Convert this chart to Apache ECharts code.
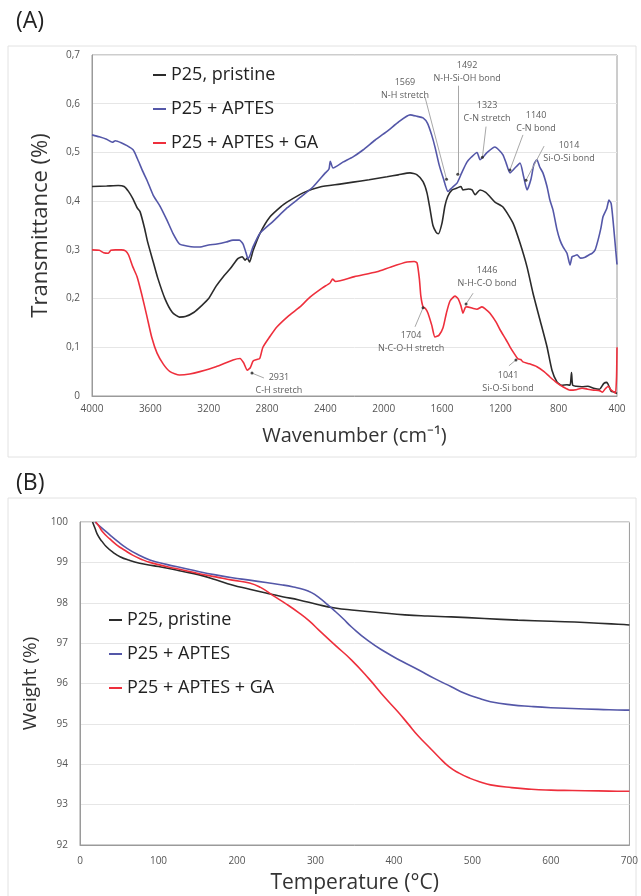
<!DOCTYPE html>
<html>
<head>
<meta charset="utf-8">
<script src="https://cdn.jsdelivr.net/npm/echarts@6/dist/echarts.min.js"></script>
<style>
  html, body { margin: 0; padding: 0; background: #fff; }
  #chart { width: 641px; height: 896px; }
</style>
</head>
<body>
<div id="chart"></div>
<script>
// ---- (A) FTIR: [wavenumber, transmittance]
var ftirPristine = [[4000,0.430],[3900,0.431],[3820,0.432],[3780,0.430],[3750,0.420],[3720,0.405],[3690,0.386],[3670,0.378],[3640,0.345],[3620,0.318],[3580,0.275],[3550,0.243],[3500,0.200],[3450,0.172],[3400,0.162],[3360,0.163],[3300,0.172],[3250,0.185],[3200,0.200],[3150,0.225],[3100,0.245],[3050,0.262],[3000,0.282],[2970,0.286],[2950,0.279],[2935,0.283],[2920,0.275],[2896,0.298],[2848,0.334],[2779,0.368],[2700,0.390],[2663,0.398],[2553,0.417],[2437,0.429],[2300,0.435],[2210,0.439],[2100,0.444],[1977,0.450],[1900,0.454],[1819,0.458],[1771,0.454],[1730,0.440],[1703,0.417],[1680,0.380],[1662,0.350],[1640,0.336],[1625,0.333],[1600,0.355],[1580,0.390],[1560,0.410],[1531,0.423],[1497,0.427],[1470,0.430],[1456,0.423],[1420,0.425],[1394,0.423],[1373,0.413],[1339,0.423],[1300,0.418],[1271,0.409],[1237,0.398],[1182,0.388],[1113,0.355],[1065,0.314],[1017,0.265],[976,0.211],[928,0.156],[880,0.101],[846,0.053],[812,0.029],[780,0.022],[743,0.023],[722,0.022],[712,0.048],[704,0.022],[680,0.020],[640,0.019],[600,0.020],[560,0.016],[520,0.014],[490,0.026],[470,0.028],[455,0.020],[440,0.010],[420,0.008],[400,0.005]];
var ftirAptes = [[4000,0.536],[3950,0.532],[3900,0.527],[3860,0.521],[3840,0.524],[3800,0.520],[3760,0.514],[3717,0.505],[3690,0.488],[3650,0.460],[3623,0.443],[3580,0.412],[3534,0.390],[3486,0.361],[3445,0.334],[3400,0.312],[3350,0.308],[3300,0.306],[3260,0.306],[3200,0.310],[3143,0.312],[3080,0.316],[3033,0.320],[2990,0.320],[2964,0.312],[2945,0.295],[2930,0.282],[2915,0.290],[2896,0.306],[2848,0.334],[2760,0.358],[2663,0.386],[2570,0.408],[2485,0.429],[2400,0.458],[2375,0.466],[2366,0.482],[2347,0.468],[2280,0.480],[2210,0.491],[2142,0.505],[2060,0.525],[1966,0.546],[1900,0.562],[1819,0.577],[1770,0.574],[1730,0.571],[1700,0.560],[1670,0.535],[1648,0.511],[1620,0.475],[1590,0.446],[1559,0.420],[1530,0.428],[1497,0.437],[1465,0.458],[1429,0.480],[1400,0.490],[1360,0.500],[1339,0.485],[1320,0.490],[1290,0.500],[1237,0.511],[1210,0.505],[1182,0.495],[1160,0.478],[1134,0.458],[1100,0.468],[1065,0.478],[1040,0.450],[1017,0.423],[990,0.445],[970,0.475],[949,0.485],[930,0.470],[908,0.458],[880,0.430],[860,0.402],[839,0.382],[812,0.342],[791,0.320],[770,0.306],[743,0.293],[722,0.269],[708,0.286],[690,0.288],[674,0.290],[650,0.283],[619,0.285],[590,0.290],[571,0.293],[550,0.300],[530,0.320],[510,0.345],[496,0.368],[470,0.385],[455,0.402],[440,0.395],[427,0.360],[412,0.310],[400,0.270]];
var ftirAptesGa = [[4000,0.300],[3950,0.299],[3920,0.294],[3890,0.293],[3870,0.299],[3840,0.300],[3800,0.300],[3770,0.298],[3750,0.290],[3720,0.265],[3691,0.245],[3660,0.210],[3623,0.163],[3590,0.120],[3554,0.088],[3510,0.065],[3465,0.050],[3400,0.043],[3330,0.045],[3260,0.050],[3150,0.060],[3033,0.074],[2985,0.077],[2960,0.068],[2935,0.053],[2915,0.058],[2895,0.072],[2870,0.075],[2850,0.077],[2828,0.100],[2780,0.122],[2731,0.142],[2650,0.165],[2574,0.183],[2505,0.203],[2420,0.222],[2368,0.232],[2350,0.240],[2330,0.235],[2200,0.245],[2046,0.255],[1950,0.265],[1840,0.275],[1790,0.276],[1771,0.273],[1755,0.240],[1745,0.205],[1730,0.183],[1715,0.180],[1696,0.170],[1670,0.145],[1648,0.121],[1620,0.125],[1593,0.140],[1570,0.170],[1545,0.195],[1511,0.205],[1490,0.200],[1470,0.185],[1456,0.170],[1440,0.182],[1428,0.183],[1390,0.180],[1360,0.178],[1326,0.183],[1300,0.178],[1271,0.170],[1230,0.152],[1202,0.136],[1160,0.115],[1134,0.101],[1100,0.085],[1079,0.076],[1060,0.075],[1045,0.070],[1000,0.066],[949,0.060],[900,0.050],[860,0.039],[812,0.027],[771,0.019],[722,0.012],[680,0.013],[640,0.016],[600,0.014],[560,0.012],[520,0.011],[500,0.008],[480,0.015],[460,0.020],[440,0.012],[420,0.008],[410,0.006],[403,0.040],[400,0.100]];

// peak annotations: [dot wn, dot T, leader end wn, leader end T, text wn, text T, number, assignment]
var peakNotes = [
  [1569, 0.445, 1717, 0.614, 1854, 0.630, '1569', 'N-H stretch'],
  [1492, 0.455, 1492, 0.637, 1428, 0.665, '1492', 'N-H-Si-OH bond'],
  [1323, 0.490, 1298, 0.553, 1291, 0.583, '1323', 'C-N stretch'],
  [1134, 0.464, 1045, 0.536, 955, 0.562, '1140', 'C-N bond'],
  [1024, 0.443, 900, 0.513, 729, 0.502, '1014', 'Si-O-Si bond'],
  [1435, 0.189, 1387, 0.211, 1291, 0.245, '1446', 'N-H-C-O bond'],
  [1730, 0.181, 1785, 0.142, 1812, 0.112, '1704', 'N-C-O-H stretch'],
  [1093, 0.074, 1141, 0.062, 1147, 0.029, '1041', 'Si-O-Si bond'],
  [2903, 0.047, 2821, 0.037, 2718, 0.025, '2931', 'C-H stretch']
];

// ---- (B) TGA: [temperature, weight]
var tgaPristine = [[16,100],[19,99.85],[23,99.66],[28,99.52],[34,99.38],[42,99.25],[51,99.14],[63,99.05],[76,98.98],[93,98.92],[110,98.86],[130,98.78],[152,98.69],[173,98.57],[194,98.44],[215,98.34],[237,98.24],[258,98.15],[279,98.07],[304,97.95],[325,97.87],[346,97.82],[380,97.76],[414,97.70],[443,97.67],[473,97.65],[515,97.61],[558,97.57],[600,97.54],[643,97.51],[693,97.46],[700,97.45]];
var tgaAptes = [[19,100],[28,99.85],[38,99.68],[48,99.52],[59,99.36],[73,99.2],[89,99.06],[110,98.95],[131,98.86],[152,98.77],[173,98.69],[194,98.62],[216,98.56],[237,98.5],[258,98.44],[272,98.39],[285,98.33],[295,98.25],[305,98.12],[315,97.96],[325,97.79],[335,97.61],[346,97.40],[367,97.06],[389,96.78],[410,96.55],[431,96.34],[452,96.12],[473,95.92],[490,95.76],[507,95.64],[523,95.55],[550,95.47],[575,95.43],[600,95.40],[627,95.38],[660,95.36],[695,95.34],[700,95.34]];
var tgaAptesGa = [[20,100],[24,99.9],[29,99.75],[38,99.58],[47,99.43],[57,99.3],[67,99.18],[78,99.08],[89,99.0],[110,98.9],[131,98.81],[152,98.72],[173,98.64],[194,98.56],[216,98.49],[230,98.38],[245,98.19],[262,97.98],[279,97.75],[292,97.55],[304,97.33],[325,96.95],[346,96.58],[368,96.12],[389,95.64],[405,95.3],[418,95.0],[431,94.7],[444,94.44],[457,94.18],[470,93.94],[483,93.78],[497,93.65],[510,93.56],[523,93.49],[550,93.42],[575,93.38],[600,93.36],[627,93.35],[660,93.34],[695,93.33],[700,93.33]];

var seriesNames = ['P25, pristine', 'P25 + APTES', 'P25 + APTES + GA'];
var seriesColors = ['#2b2b2b', '#5457a8', '#ee2f3c'];

var myChart = echarts.init(document.getElementById('chart'));
var font = '"Open Sans", sans-serif';

function lineSeries(i, data, axis) {
  return {
    name: seriesNames[i], type: 'line', data: data,
    xAxisIndex: axis, yAxisIndex: axis,
    showSymbol: false, smooth: axis === 1 ? true : 0.2,
    lineStyle: { color: seriesColors[i], width: 1.6 },
    itemStyle: { color: seriesColors[i] },
    animation: false, z: 3
  };
}

var leaders = peakNotes.map(function (p) {
  return [{ coord: [p[0], p[1]] }, { coord: [p[2], p[3]] }];
});

option = {
  backgroundColor: '#fff',
  graphic: [
    { type: 'rect', shape: { x: 8, y: 46, width: 628, height: 411 }, style: { fill: 'none', stroke: '#e2e2e2', lineWidth: 1 }, z: 0 },
    { type: 'rect', shape: { x: 8, y: 498, width: 628, height: 420 }, style: { fill: 'none', stroke: '#e2e2e2', lineWidth: 1 }, z: 0 },
    { type: 'text', left: 16, top: 10, style: { text: '(A)', font: '23px ' + font, fill: '#222' } },
    { type: 'text', left: 16, top: 472, style: { text: '(B)', font: '23px ' + font, fill: '#222' } }
  ],
  legend: [
    { data: seriesNames, orient: 'vertical', left: 148, top: 61, itemGap: 16, itemWidth: 13, itemHeight: 2, icon: 'rect',
      textStyle: { fontFamily: font, fontSize: 18, color: '#222' } },
    { data: seriesNames, orient: 'vertical', left: 104, top: 606, itemGap: 16, itemWidth: 13, itemHeight: 2, icon: 'rect',
      textStyle: { fontFamily: font, fontSize: 18, color: '#222' } }
  ],
  grid: [
    { left: 92, right: 24, top: 55, bottom: 500, show: true, borderColor: '#9a9a9a', borderWidth: 1 },
    { left: 80, right: 10, top: 522, bottom: 51, show: true, borderColor: '#9a9a9a', borderWidth: 1 }
  ],
  xAxis: [
    { type: 'value', gridIndex: 0, inverse: true, min: 400, max: 4000, interval: 400,
      name: 'Wavenumber (cm⁻¹)', nameLocation: 'middle', nameGap: 30,
      nameTextStyle: { fontFamily: font, fontSize: 20, color: '#333' },
      axisLine: { lineStyle: { color: '#9a9a9a' } }, axisTick: { show: false },
      axisLabel: { fontFamily: font, fontSize: 10, color: '#555', margin: 8,
        formatter: function (v) { return String(v); } },
      splitLine: { show: false } },
    { type: 'value', gridIndex: 1, min: 0, max: 700, interval: 100,
      name: 'Temperature (°C)', nameLocation: 'middle', nameGap: 28,
      nameTextStyle: { fontFamily: font, fontSize: 21, color: '#333' },
      axisLine: { lineStyle: { color: '#9a9a9a' } }, axisTick: { show: false },
      axisLabel: { fontFamily: font, fontSize: 10, color: '#555', margin: 11 },
      splitLine: { show: false } }
  ],
  yAxis: [
    { type: 'value', gridIndex: 0, min: 0, max: 0.7, interval: 0.1,
      name: 'Transmittance (%)', nameLocation: 'middle', nameGap: 40,
      nameTextStyle: { fontFamily: font, fontSize: 22, color: '#333' },
      axisLine: { lineStyle: { color: '#9a9a9a' } }, axisTick: { show: false },
      axisLabel: { fontFamily: font, fontSize: 10, color: '#555', margin: 12,
        formatter: function (v) { return v === 0 ? '0' : v.toFixed(1).replace('.', ','); } },
      splitLine: { lineStyle: { color: '#e6e6e6' } } },
    { type: 'value', gridIndex: 1, min: 92, max: 100, interval: 1,
      name: 'Weight (%)', nameLocation: 'middle', nameGap: 34,
      nameTextStyle: { fontFamily: font, fontSize: 19, color: '#333' },
      axisLine: { lineStyle: { color: '#9a9a9a' } }, axisTick: { show: false },
      axisLabel: { fontFamily: font, fontSize: 10, color: '#555', margin: 12 },
      splitLine: { lineStyle: { color: '#e6e6e6' } } }
  ],
  series: [
    lineSeries(0, ftirPristine, 0),
    lineSeries(1, ftirAptes, 0),
    lineSeries(2, ftirAptesGa, 0),
    lineSeries(0, tgaPristine, 1),
    lineSeries(1, tgaAptes, 1),
    lineSeries(2, tgaAptesGa, 1),
    {
      name: 'peak dots', type: 'scatter', xAxisIndex: 0, yAxisIndex: 0,
      data: peakNotes.map(function (p) { return [p[0], p[1]]; }),
      symbolSize: 3, itemStyle: { color: '#222' }, animation: false, silent: true, z: 5,
      markLine: {
        silent: true, symbol: ['none', 'none'], animation: false,
        lineStyle: { color: '#a8a8a8', type: 'solid', width: 1 },
        label: { show: false }, data: leaders
      }
    },
    {
      name: 'peak labels', type: 'scatter', xAxisIndex: 0, yAxisIndex: 0,
      data: peakNotes.map(function (p) { return { value: [p[4], p[5]], name: p[6] + '\n' + p[7] }; }),
      symbolSize: 1, itemStyle: { color: 'transparent' }, animation: false, silent: true, z: 6,
      label: { show: true, position: 'inside', formatter: '{b}', fontFamily: font,
        fontSize: 9, lineHeight: 13, color: '#333', align: 'center' }
    }
  ]
};
myChart.setOption(option);
</script>
</body>
</html>
